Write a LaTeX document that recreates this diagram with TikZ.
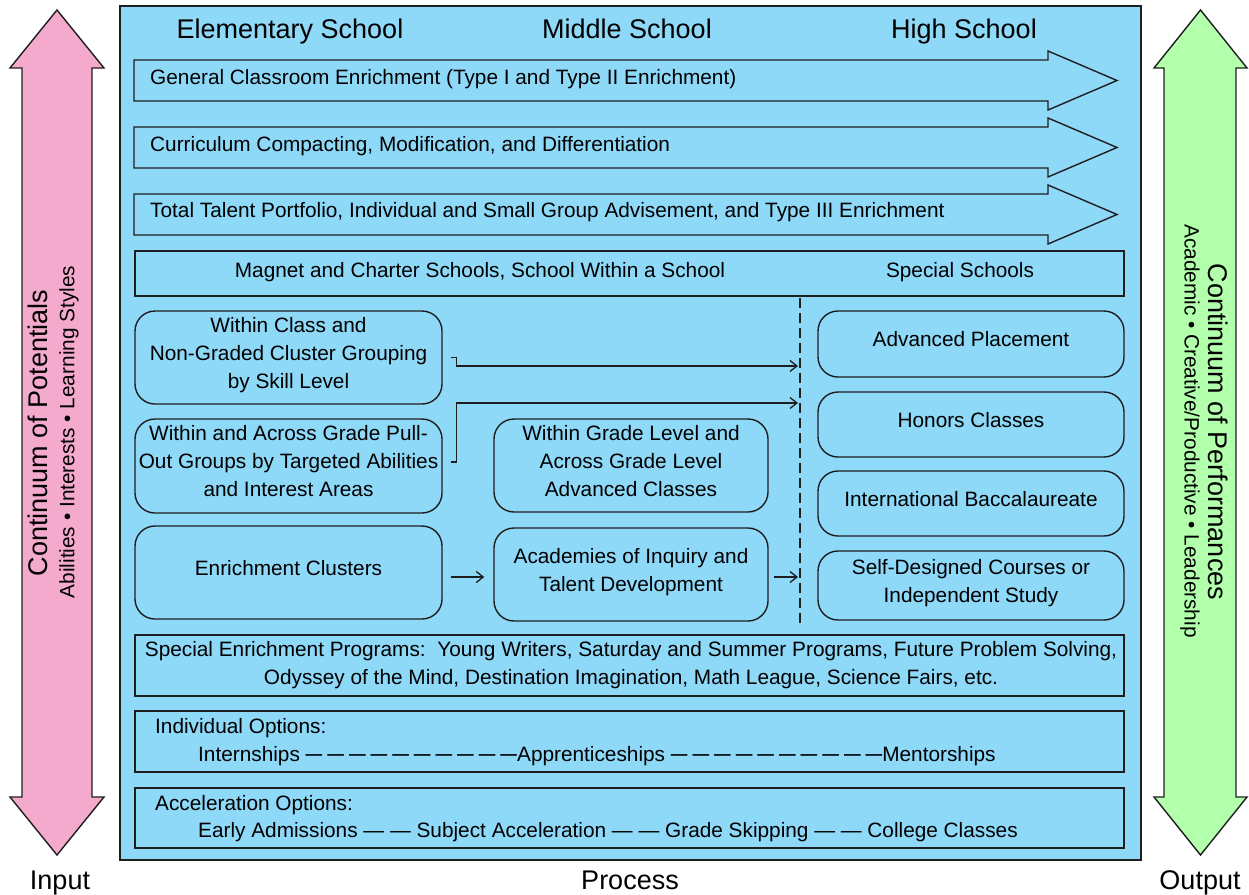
\documentclass[tikz,border=0pt]{standalone}
\usepackage{graphicx}
\usepackage{fontspec}
\setmainfont{Liberation Sans}
\usetikzlibrary{arrows.meta}

\definecolor{procblue}{RGB}{142,216,248}
\definecolor{inpink}{RGB}{244,170,204}
\definecolor{outgreen}{RGB}{178,255,172}
\definecolor{ink}{RGB}{30,30,30}

\newcommand\lblfont{\fontsize{20.8}{28}\selectfont}
\newcommand\ttlfont{\fontsize{27}{32}\selectfont}
% one short dash of a dashed run, with and without its trailing gap
\newcommand\dsh{\scalebox{0.8}[1.15]{\textemdash}\hspace{5pt}}
\newcommand\dshend{\scalebox{0.8}[1.15]{\textemdash}}

\begin{document}
\begin{tikzpicture}[x=1pt,y=-1pt,
  outline/.style={draw=ink,line width=1.4pt,line join=miter},
  band/.style={outline,fill=procblue,rectangle,inner sep=0pt},
  pill/.style={outline,fill=procblue,rectangle,rounded corners=20pt,inner sep=0pt,align=center,
    font=\lblfont,text depth=10pt},
  lbl/.style={inner sep=0pt,font=\lblfont},
  ttl/.style={inner sep=0pt,font=\ttlfont},
  conn/.style={draw=ink,line width=1.3pt,-{Straight Barb[length=7pt,width=11pt,line width=1.3pt]}},
]
\useasboundingbox (0,0) rectangle (1249,894);

% process panel
\node[band,minimum width=1021pt,minimum height=854pt] (process) at (630.5,433) {};

% input and output double arrows
\draw[outline,fill=inpink] (57,10) -- (104,68) -- (92,68) -- (92,797) -- (104,797)
  -- (57,855) -- (10,797) -- (22,797) -- (22,68) -- (10,68) -- cycle;
\draw[outline,fill=outgreen] (1200.5,10) -- (1247,68) -- (1236,68) -- (1236,797) -- (1247,797)
  -- (1200.5,855) -- (1154,797) -- (1164,797) -- (1164,68) -- (1154,68) -- cycle;

\node[ttl,rotate=90] (potentials) at (38,433) {Continuum of Potentials};
\node[lbl,rotate=90] (potentialkinds) at (69,432) {Abilities • Interests • Learning Styles};
\node[ttl,rotate=-90] (performances) at (1218,432) {Continuum of Performances};
\node[lbl,rotate=-90] (performancekinds) at (1190,431) {Academic • Creative/Productive • Leadership};

% school levels
\node[ttl,anchor=base] (elementary) at (290,38) {Elementary School};
\node[ttl,anchor=base] (middle) at (627,38) {Middle School};
\node[ttl,anchor=base] (high) at (964,38) {High School};

% services running through all levels
\draw[outline,fill=procblue] (134,60) -- (1048,60) -- (1048,51) -- (1117,80.5)
  -- (1048,110) -- (1048,101) -- (134,101) -- cycle;
\node[lbl,anchor=base west] (general) at (150,84) {General Classroom Enrichment (Type I and Type II Enrichment)};
\draw[outline,fill=procblue] (134,127) -- (1048,127) -- (1048,118) -- (1117,147.5)
  -- (1048,177) -- (1048,168) -- (134,168) -- cycle;
\node[lbl,anchor=base west] (compacting) at (150,151) {Curriculum Compacting, Modification, and Differentiation};
\draw[outline,fill=procblue] (134,194) -- (1048,194) -- (1048,185) -- (1117,214.5)
  -- (1048,244) -- (1048,235) -- (134,235) -- cycle;
\node[lbl,anchor=base west] (portfolio) at (150,217) {Total Talent Portfolio, Individual and Small Group Advisement, and Type III Enrichment};

% school settings
\node[band,minimum width=989pt,minimum height=45pt] (settings) at (629.5,273.5) {};
\node[lbl,anchor=base] (magnet) at (480,277) {Magnet and Charter Schools, School Within a School};
\node[lbl,anchor=base] (specialschools) at (960,277) {Special Schools};

% divider before high school options
\coordinate (divtop) at (800,298);
\coordinate (divbot) at (800,625);
\draw[ink,line width=1.4pt,dash pattern=on 10pt off 5pt] (divtop) -- (divbot);
\coordinate (in1) at (798,366);
\coordinate (in2) at (798,403);
\coordinate (in3) at (798,577);

% grouping options
\node[pill,minimum width=307pt,minimum height=93pt] (cluster) at (288.5,357.5)
  {Within Class and\\Non-Graded Cluster Grouping\\by Skill Level};
\node[pill,minimum width=307pt,minimum height=94pt] (pullout) at (288.5,466)
  {Within and Across Grade Pull-\\Out Groups by Targeted Abilities\\and Interest Areas};
\node[pill,minimum width=307pt,minimum height=93pt] (clusters) at (288.5,572.5) {Enrichment Clusters};
\node[pill,minimum width=274pt,minimum height=93pt] (gradelevel) at (631,465.5)
  {Within Grade Level and\\Across Grade Level\\Advanced Classes};
\node[pill,minimum width=274pt,minimum height=93pt] (academies) at (631,574.5)
  {Academies of Inquiry and\\Talent Development};

% high school options
\node[pill,minimum width=306pt,minimum height=66pt] (ap) at (971,344) {Advanced Placement};
\node[pill,minimum width=306pt,minimum height=65pt] (honors) at (971,424.5) {Honors Classes};
\node[pill,minimum width=306pt,minimum height=65pt] (ib) at (971,503.5) {International Baccalaureate};
\node[pill,minimum width=306pt,minimum height=69pt] (selfdesigned) at (971,585.5)
  {Self-Designed Courses or\\Independent Study};

% connectors
\draw[conn] ([xshift=8pt]cluster.east) -- ++(6,0) |- (in1);
\draw[conn] ([xshift=8pt,yshift=4pt]pullout.east) -- ++(6,0) |- (in2);
\draw[conn] ([xshift=8pt,yshift=-4.5pt]clusters.east) -- ([xshift=-9pt,yshift=-2.5pt]academies.west);
\draw[conn] ([xshift=5pt,yshift=-2.5pt]academies.east) -- (in3);

% programs and options
\node[band,minimum width=989pt,minimum height=61pt] (programs) at (629.5,665.5) {};
\node[lbl,align=center] (programlist) at (631,665)
  {Special Enrichment Programs:\ \ Young Writers, Saturday and Summer Programs, Future Problem Solving,\\
   Odyssey of the Mind, Destination Imagination, Math League, Science Fairs, etc.};

\node[band,minimum width=989pt,minimum height=61pt] (individual) at (629.5,741.5) {};
\node[lbl,anchor=base west] (individualhead) at (155,733) {Individual Options:};
\node[lbl,anchor=base west] (individuallist) at (198,761)
  {Internships \dsh\dsh\dsh\dsh\dsh\dsh\dsh\dsh\dsh\dshend Apprenticeships \dsh\dsh\dsh\dsh\dsh\dsh\dsh\dsh\dsh\dshend Mentorships};

\node[band,minimum width=989pt,minimum height=60pt] (acceleration) at (629.5,818) {};
\node[lbl,anchor=base west] (accelerationhead) at (155,810) {Acceleration Options:};
\node[lbl,anchor=base west] (accelerationlist) at (198,837.5)
  {Early Admissions \textemdash\ \textemdash\ Subject Acceleration \textemdash\ \textemdash\ Grade Skipping \textemdash\ \textemdash\ College Classes};

% stage labels
\node[ttl,anchor=base] (input) at (60,889) {Input};
\node[ttl,anchor=base] (processlabel) at (630,889) {Process};
\node[ttl,anchor=base] (output) at (1200,889) {Output};
\end{tikzpicture}
\end{document}
